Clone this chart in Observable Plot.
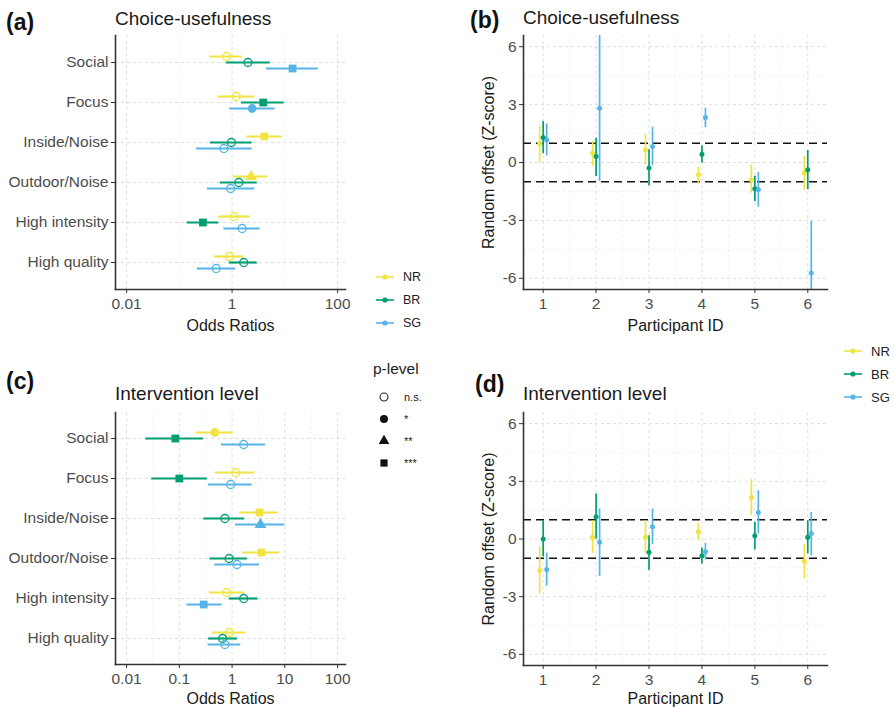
<!DOCTYPE html>
<html><head><meta charset="utf-8">
<script src="https://cdn.jsdelivr.net/npm/d3@7"></script>
<script src="https://cdn.jsdelivr.net/npm/@observablehq/plot@0.6"></script>
<style>
html,body{margin:0;padding:0;background:#fff;}
#root{position:relative;width:894px;height:707px;overflow:hidden;font-family:"Liberation Sans",Arial,Helvetica,sans-serif;color:#1a1a1a;}
.abs{position:absolute;line-height:1;white-space:nowrap;transform:translateY(-50%);}
.box{position:absolute;}
.tag{font-weight:bold;font-size:23px;color:#111;}
.title{font-size:19px;color:#1a1a1a;}
</style></head><body><div id="root"></div>
<script>
// ---------------- data ----------------
const categories = ["Social","Focus","Inside/Noise","Outdoor/Noise","High intensity","High quality"];
const series = ["NR","BR","SG"];
const colors = ["#F0E442","#009E73","#56B4E9"];
const pLevels = ["n.s.","*","**","***"];
const pShapes = ["circle","circle","triangle","square"];

// (a) Choice-usefulness: odds ratios [NR, BR, SG] x categories
const choiceOR = [[0.79,1.2,4.1,2.3,1.09,0.89],[2.0,3.9,0.97,1.34,0.28,1.66],[14,2.4,0.70,0.94,1.55,0.50]];
const choiceLo = [[0.38,0.54,1.9,1.07,0.56,0.47],[0.78,1.5,0.39,0.6,0.14,0.88],[4.5,0.9,0.21,0.34,0.70,0.22]];
const choiceHi = [[1.55,2.7,9.0,4.7,2.2,1.66],[5.3,9.7,2.4,3.0,0.56,3.0],[43,6.5,2.4,2.7,3.4,1.17]];
const choiceP  = [["n.s.","n.s.","***","**","n.s.","n.s."],["n.s.","***","n.s.","n.s.","***","n.s."],["***","*","n.s.","n.s.","n.s.","n.s."]];

// (c) Intervention level
const interOR = [[0.47,1.17,3.3,3.6,0.79,0.89],[0.084,0.10,0.73,0.88,1.66,0.66],[1.66,0.94,3.45,1.24,0.29,0.73]];
const interLo = [[0.21,0.48,1.4,1.6,0.37,0.42],[0.023,0.03,0.29,0.38,0.88,0.36],[0.63,0.36,1.16,0.47,0.14,0.35]];
const interHi = [[1.05,2.7,7.5,8.0,1.74,1.79],[0.29,0.34,1.74,1.95,3.1,1.26],[4.3,2.4,10,3.3,0.65,1.46]];
const interP  = [["*","n.s.","***","***","n.s.","n.s."],["***","***","n.s.","n.s.","n.s.","n.s."],["n.s.","n.s.","**","n.s.","***","n.s."]];

const ticksA = [0.01,1,100];
const ticksC = [0.01,0.1,1,10,100];

// (b) / (d) random offsets per participant
const participants = [1,2,3,4,5,6];
const choiceZ   = [[0.97,0.48,0.66,-0.64,-0.90,-0.55],[1.29,0.31,-0.29,0.43,-1.36,-0.38],[1.17,2.81,0.83,2.33,-1.41,-5.72]];
const choiceZlo = [[0.0,-0.2,-0.12,-1.07,-1.59,-1.45],[0.45,-0.72,-1.21,-0.03,-2.02,-1.41],[0.34,-0.98,-0.17,1.81,-2.31,-7.5]];
const choiceZhi = [[1.9,1.09,1.43,-0.24,-0.12,0.31],[2.12,1.26,0.66,0.86,-0.72,0.62],[2.0,7.5,1.83,2.81,-0.52,-3.05]];
const interZ    = [[-1.64,0.09,0.09,0.38,2.16,-1.16],[0.0,1.16,-0.69,-0.87,0.17,0.09],[-1.59,-0.17,0.64,-0.66,1.38,0.29]];
const interZlo  = [[-2.85,-0.74,-0.78,-0.09,1.21,-2.08],[-0.92,0.0,-1.64,-1.30,-0.57,-0.78],[-2.46,-1.94,-0.29,-1.09,0.26,-0.87]];
const interZhi  = [[-0.40,0.95,0.95,0.81,3.11,-0.29],[0.95,2.34,0.17,-0.47,0.87,0.95],[-0.73,1.56,1.56,-0.22,2.51,1.38]];
const zTicks = [-6,-3,0,3,6];
const thresholds = [-1,1];

// ---------------- drawing ----------------
const FONT = '"Liberation Sans", Arial, Helvetica, sans-serif';
const MAJOR = "#dedede", MINOR = "#efefef";
const AXIS = "#333333", TICKTEXT = "#4d4d4d";
const root = document.getElementById("root");

function place(el, left, top) {
  const d = document.createElement("div");
  d.className = "box"; d.style.left = left + "px"; d.style.top = top + "px";
  d.appendChild(el); root.appendChild(d);
}
function text(str, x, y, cls, extra = "") {
  const d = document.createElement("div");
  d.className = "abs " + cls; d.textContent = str;
  d.style.cssText += `left:${x}px;top:${y}px;${extra}`;
  root.appendChild(d);
}

function forestPlot({or, lo, hi, p, ticks, height, marginTop, marginBottom, labelOffset}) {
  const rows = series.flatMap((s, i) => categories.map((c, j) => ({si: i, cat: c, or: or[i][j], lo: lo[i][j], hi: hi[i][j], p: p[i][j]})));
  const lt = ticks.map(Math.log10);
  const minor = d3.pairs(lt).map(([a, b]) => 10 ** ((a + b) / 2));
  const marks = [
    Plot.gridX(minor, {stroke: MINOR, strokeOpacity: 1, strokeDasharray: "2,3"}),
    Plot.gridX(ticks, {stroke: MAJOR, strokeOpacity: 1, strokeDasharray: "3,3"}),
    Plot.gridY(categories, {stroke: MAJOR, strokeOpacity: 1, strokeDasharray: "3,3"})
  ];
  series.forEach((s, i) => {
    marks.push(Plot.ruleY(rows.filter(r => r.si === i), {y: "cat", x1: "lo", x2: "hi", stroke: colors[i], strokeWidth: 2.2, dy: (i - 1) * 6}));
  });
  series.forEach((s, i) => {
    const d = rows.filter(r => r.si === i);
    marks.push(Plot.dot(d.filter(r => r.p === "n.s."), {x: "or", y: "cat", r: 4, stroke: colors[i], strokeWidth: 1.3, fill: "none", dy: (i - 1) * 6}));
    marks.push(Plot.dot(d.filter(r => r.p !== "n.s."), {x: "or", y: "cat", r: 4.4, symbol: "p", fill: colors[i], stroke: "none", dy: (i - 1) * 6}));
  });
  marks.push(
    Plot.frame({anchor: "left", stroke: AXIS, strokeWidth: 1.6}),
    Plot.frame({anchor: "bottom", stroke: AXIS, strokeWidth: 1.6}),
    Plot.axisY({tickSize: 4, tickPadding: 3, stroke: AXIS, fill: TICKTEXT, fontSize: 15.5, label: null}),
    Plot.axisX(ticks, {tickSize: 4, tickPadding: 4.5, stroke: AXIS, fill: TICKTEXT, fontSize: 15.5, tickFormat: d => String(d), label: null}),
    Plot.axisX({ticks: [], tickSize: 0, label: "Odds Ratios", labelAnchor: "center", labelArrow: "none", labelOffset, fill: "#1a1a1a", fontSize: 16})
  );
  return Plot.plot({
    width: 350, height, marginLeft: 115, marginRight: 5, marginTop, marginBottom,
    style: {fontFamily: FONT, fontSize: "15.5px", background: "transparent", overflow: "visible"},
    x: {type: "log", domain: [10 ** -2.21, 10 ** 2.15]},
    y: {type: "point", domain: categories, padding: 0.6},
    symbol: {domain: pLevels, range: pShapes},
    marks
  });
}

function zPlot({z, lo, hi, height, marginTop, marginBottom, labelOffsetX}) {
  const rows = series.flatMap((s, i) => participants.map((id, j) => ({si: i, id, z: z[i][j], lo: lo[i][j], hi: hi[i][j]})));
  const minorX = d3.pairs(participants).map(([a, b]) => (a + b) / 2);
  const minorY = d3.pairs(zTicks).map(([a, b]) => (a + b) / 2);
  const marks = [
    Plot.gridX(minorX, {stroke: MINOR, strokeOpacity: 1, strokeDasharray: "2,3"}),
    Plot.gridY(minorY, {stroke: MINOR, strokeOpacity: 1, strokeDasharray: "2,3"}),
    Plot.gridX(participants, {stroke: MAJOR, strokeOpacity: 1, strokeDasharray: "3,3"}),
    Plot.gridY(zTicks, {stroke: MAJOR, strokeOpacity: 1, strokeDasharray: "3,3"}),
    Plot.ruleY(thresholds, {stroke: "#111", strokeWidth: 1.6, strokeDasharray: "8,5"})
  ];
  series.forEach((s, i) => {
    marks.push(Plot.ruleX(rows.filter(r => r.si === i), {x: "id", y1: "lo", y2: "hi", stroke: colors[i], strokeWidth: 1.7, dx: (i - 1) * 3.5, clip: true}));
  });
  series.forEach((s, i) => {
    marks.push(Plot.dot(rows.filter(r => r.si === i), {x: "id", y: "z", r: 2.5, fill: colors[i], dx: (i - 1) * 3.5}));
  });
  marks.push(
    Plot.frame({anchor: "left", stroke: AXIS, strokeWidth: 1.6}),
    Plot.frame({anchor: "bottom", stroke: AXIS, strokeWidth: 1.6}),
    Plot.axisY(zTicks, {tickSize: 4, tickPadding: 3, stroke: AXIS, fill: TICKTEXT, fontSize: 15.5, tickFormat: d => String(d), label: null}),
    Plot.axisY({ticks: [], tickSize: 0, label: "Random offset (Z-score)", labelAnchor: "center", labelArrow: "none", labelOffset: 41, fill: "#1a1a1a", fontSize: 16}),
    Plot.axisX(participants, {tickSize: 4, tickPadding: 4.5, stroke: AXIS, fill: TICKTEXT, fontSize: 15.5, tickFormat: d => String(d), label: null}),
    Plot.axisX({ticks: [], tickSize: 0, label: "Participant ID", labelAnchor: "center", labelArrow: "none", labelOffset: labelOffsetX, fill: "#1a1a1a", fontSize: 16})
  );
  return Plot.plot({
    width: 380, height, marginLeft: 68, marginRight: 8, marginTop, marginBottom,
    style: {fontFamily: FONT, fontSize: "15.5px", background: "transparent", overflow: "visible"},
    x: {domain: [0.628, 6.373]},
    y: {domain: [-6.58, 6.58]},
    marks
  });
}

place(forestPlot({or: choiceOR, lo: choiceLo, hi: choiceHi, p: choiceP, ticks: ticksA, height: 335, marginTop: 35, marginBottom: 46, labelOffset: 41}), 0, 0);
place(forestPlot({or: interOR, lo: interLo, hi: interHi, p: interP, ticks: ticksC, height: 332, marginTop: 37, marginBottom: 43, labelOffset: 39}), 0, 375);
place(zPlot({z: choiceZ, lo: choiceZlo, hi: choiceZhi, height: 335, marginTop: 35, marginBottom: 46, labelOffsetX: 41}), 455, 0);
place(zPlot({z: interZ, lo: interZlo, hi: interZhi, height: 332, marginTop: 37, marginBottom: 42, labelOffsetX: 38}), 455, 375);

// panel tags and titles
text("(a)", 6, 22, "tag"); text("Choice-usefulness", 115, 18, "title");
text("(b)", 470, 20, "tag"); text("Choice-usefulness", 523, 17, "title");
text("(c)", 6, 381, "tag"); text("Intervention level", 115, 393, "title");
text("(d)", 475, 384, "tag"); text("Intervention level", 523, 393, "title");

// colour legends (series)
function seriesLegend(x, y, gap, fs) {
  series.forEach((s, i) => {
    const svg = d3.create("svg").attr("width", 22).attr("height", 10)
      .style("position", "absolute").style("left", x + "px").style("top", (y + i * gap - 5) + "px");
    svg.append("line").attr("x1", 1).attr("x2", 19).attr("y1", 5).attr("y2", 5).attr("stroke", colors[i]).attr("stroke-width", 1.6);
    svg.append("circle").attr("cx", 10).attr("cy", 5).attr("r", 2.6).attr("fill", colors[i]);
    root.appendChild(svg.node());
    text(s, x + 28, y + i * gap, "", `font-size:${fs}px;color:#222;`);
  });
}
seriesLegend(375, 277, 23, 12.5);
seriesLegend(843, 351, 23, 13);

// p-level legend
text("p-level", 373, 369, "", "font-size:15.5px;color:#222;");
pLevels.forEach((lab, i) => {
  const yy = 397 + i * 22;
  const svg = d3.create("svg").attr("width", 14).attr("height", 14)
    .style("position", "absolute").style("left", "377px").style("top", (yy - 7) + "px");
  const sym = d3.symbol().type(pShapes[i] === "circle" ? d3.symbolCircle : pShapes[i] === "triangle" ? d3.symbolTriangle : d3.symbolSquare).size(pShapes[i] === "square" ? 52 : 50);
  const path = svg.append("path").attr("transform", "translate(7,7)").attr("d", sym());
  if (lab === "n.s.") path.attr("fill", "none").attr("stroke", "#222").attr("stroke-width", 1.1);
  else path.attr("fill", "#111");
  root.appendChild(svg.node());
  text(lab, 404, yy, "", "font-size:11px;color:#222;");
});
</script></body></html>
